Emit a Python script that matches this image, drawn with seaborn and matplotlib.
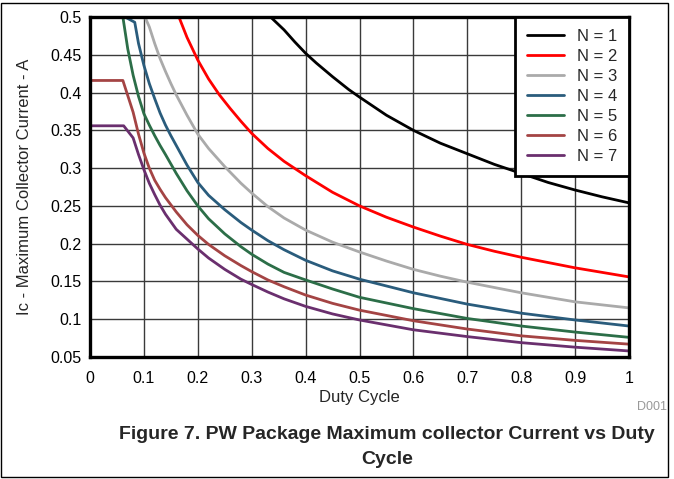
"""
Recreate the PW package maximum collector current vs duty cycle chart.
"""

import pandas as pd
import matplotlib.pyplot as plt
import matplotlib.patches as mpatches
import seaborn as sns

# values
duty_n1 = [0.30, 0.335, 0.36, 0.38, 0.40, 0.42, 0.45, 0.48, 0.50, 0.55, 0.60, 0.65, 0.70, 0.75, 0.80, 0.85, 0.90, 0.95, 1.00]
ic_n1 = [0.50, 0.50, 0.483, 0.467, 0.452, 0.439, 0.421, 0.404, 0.394, 0.370, 0.350, 0.333, 0.319, 0.305, 0.293, 0.281, 0.271, 0.262, 0.254]

duty_n2 = [0.10, 0.165, 0.18, 0.20, 0.22, 0.24, 0.26, 0.28, 0.30, 0.33, 0.36, 0.40, 0.45, 0.50, 0.55, 0.60,
           0.65, 0.70, 0.75, 0.80, 0.85, 0.90, 0.95, 1.00]
ic_n2 = [0.50, 0.50, 0.473, 0.443, 0.418, 0.397, 0.379, 0.362, 0.346, 0.326, 0.309, 0.290, 0.268, 0.250, 0.235, 0.222,
         0.210, 0.199, 0.190, 0.182, 0.175, 0.168, 0.162, 0.156]

duty_n3 = [0.05, 0.102, 0.11, 0.12, 0.13, 0.14, 0.15, 0.16, 0.18, 0.20, 0.22, 0.25, 0.28, 0.30, 0.33, 0.36,
           0.40, 0.45, 0.50, 0.55, 0.60, 0.65, 0.70, 0.80, 0.90, 1.00]
ic_n3 = [0.50, 0.50, 0.487, 0.465, 0.445, 0.428, 0.412, 0.397, 0.370, 0.345, 0.326, 0.302, 0.280, 0.267, 0.249, 0.234,
         0.218, 0.202, 0.189, 0.177, 0.166, 0.157, 0.149, 0.135, 0.123, 0.115]

duty_n4 = [0.0, 0.065, 0.083, 0.09, 0.10, 0.11, 0.12, 0.13, 0.14, 0.15, 0.16, 0.18, 0.20, 0.22, 0.25, 0.28,
           0.30, 0.33, 0.36, 0.40, 0.45, 0.50, 0.60, 0.70, 0.80, 0.90, 1.00]
ic_n4 = [0.50, 0.50, 0.493, 0.465, 0.436, 0.412, 0.392, 0.373, 0.357, 0.343, 0.330, 0.304, 0.281, 0.264, 0.245, 0.228,
         0.218, 0.204, 0.192, 0.178, 0.164, 0.153, 0.135, 0.120, 0.108, 0.099, 0.091]

duty_n5 = [0.0, 0.061, 0.07, 0.08, 0.09, 0.10, 0.11, 0.12, 0.13, 0.14, 0.16, 0.18, 0.20, 0.22, 0.25, 0.28,
           0.30, 0.33, 0.36, 0.40, 0.45, 0.50, 0.60, 0.70, 0.80, 0.90, 1.00]
ic_n5 = [0.50, 0.50, 0.458, 0.423, 0.395, 0.372, 0.357, 0.343, 0.330, 0.318, 0.293, 0.270, 0.250, 0.233, 0.213, 0.196,
         0.186, 0.173, 0.162, 0.152, 0.140, 0.129, 0.114, 0.101, 0.091, 0.083, 0.076]

duty_n6 = [0.0, 0.061, 0.08, 0.09, 0.10, 0.11, 0.12, 0.13, 0.14, 0.16, 0.18, 0.20, 0.22, 0.25, 0.28, 0.30,
           0.33, 0.36, 0.40, 0.45, 0.50, 0.60, 0.70, 0.80, 0.90, 1.00]
ic_n6 = [0.416, 0.416, 0.374, 0.345, 0.320, 0.300, 0.284, 0.272, 0.261, 0.242, 0.225, 0.211, 0.199, 0.184, 0.171, 0.163,
         0.152, 0.143, 0.132, 0.121, 0.112, 0.098, 0.087, 0.078, 0.072, 0.067]

duty_n7 = [0.0, 0.0625, 0.08, 0.09, 0.10, 0.11, 0.12, 0.13, 0.14, 0.16, 0.18, 0.20, 0.22, 0.25, 0.28, 0.30,
           0.33, 0.36, 0.40, 0.45, 0.50, 0.60, 0.70, 0.80, 0.90, 1.00]
ic_n7 = [0.356, 0.356, 0.340, 0.318, 0.298, 0.280, 0.265, 0.251, 0.239, 0.219, 0.206, 0.193, 0.181, 0.166, 0.153, 0.146,
         0.136, 0.127, 0.117, 0.107, 0.099, 0.086, 0.077, 0.069, 0.063, 0.058]

series_labels = ['N = 1', 'N = 2', 'N = 3', 'N = 4', 'N = 5', 'N = 6', 'N = 7']
series_colors = ['#000000', '#FF0000', '#AAAAAA', '#2A5C7C', '#2C6E48', '#A44444', '#6A2F6E']

x_ticks = [0, 0.1, 0.2, 0.3, 0.4, 0.5, 0.6, 0.7, 0.8, 0.9, 1]
x_tick_labels = ['0', '0.1', '0.2', '0.3', '0.4', '0.5', '0.6', '0.7', '0.8', '0.9', '1']
y_ticks = [0.05, 0.1, 0.15, 0.2, 0.25, 0.3, 0.35, 0.4, 0.45, 0.5]
y_tick_labels = ['0.05', '0.1', '0.15', '0.2', '0.25', '0.3', '0.35', '0.4', '0.45', '0.5']


def build_frame():
    """Stack the series into one long dataframe for seaborn."""
    pairs = [(duty_n1, ic_n1), (duty_n2, ic_n2), (duty_n3, ic_n3), (duty_n4, ic_n4),
             (duty_n5, ic_n5), (duty_n6, ic_n6), (duty_n7, ic_n7)]
    frames = []
    for label, (d, ic) in zip(series_labels, pairs):
        frames.append(pd.DataFrame({'duty': d, 'ic': ic, 'series': label}))
    return pd.concat(frames, ignore_index=True)


def main():
    sns.set_style('white')
    plt.rcParams['font.family'] = ['Liberation Sans', 'DejaVu Sans']

    df = build_frame()

    fig = plt.figure(figsize=(6.74, 4.79), dpi=100)
    ax = fig.add_axes([90 / 674, 1 - 357 / 479, 539 / 674, 340 / 479])

    sns.lineplot(data=df, x='duty', y='ic', hue='series', hue_order=series_labels,
                 palette=series_colors, estimator=None, sort=False,
                 linewidth=2.0, ax=ax)

    ax.set_xlim(0, 1)
    ax.set_ylim(0.05, 0.5)
    ax.set_xticks(x_ticks)
    ax.set_xticklabels(x_tick_labels)
    ax.set_yticks(y_ticks)
    ax.set_yticklabels(y_tick_labels)
    ax.tick_params(axis='both', length=0, labelsize=11.5, colors='black')
    ax.tick_params(axis='x', pad=10)
    ax.tick_params(axis='y', pad=6)

    ax.grid(True, color='#3a3a3a', linewidth=1.0)
    ax.set_axisbelow(True)
    for spine in ax.spines.values():
        spine.set_color('black')
        spine.set_linewidth(2.4)

    ax.set_xlabel('Duty Cycle', fontsize=12, labelpad=3)
    ax.set_ylabel('Ic - Maximum Collector Current - A', fontsize=12, labelpad=13)

    handles, labels = ax.get_legend_handles_labels()
    leg = ax.legend(handles, labels, loc='upper right', borderaxespad=0,
                    fontsize=12, frameon=True, fancybox=False, framealpha=1,
                    handlelength=2.2, handletextpad=0.75, labelspacing=0.3,
                    borderpad=0.72)
    leg.get_frame().set_edgecolor('black')
    leg.get_frame().set_linewidth(2.0)
    for line in leg.get_lines():
        line.set_linewidth(2.0)

    fig.text(667 / 674, 1 - 407 / 479, 'D001', ha='right', va='center',
             fontsize=9, color='#999999')
    fig.text(387 / 674, 1 - 447 / 479,
             'Figure 7. PW Package Maximum collector Current vs Duty\nCycle',
             ha='center', va='center', fontsize=14, fontweight='bold',
             linespacing=1.6)

    # outer frame around the whole figure
    fig.patches.append(mpatches.Rectangle((1 / 674, 2 / 479), 667 / 674, 474 / 479,
                                          transform=fig.transFigure, fill=False,
                                          edgecolor='black', linewidth=1.0))

    fig.savefig('out.png', dpi=100)


if __name__ == '__main__':
    main()
